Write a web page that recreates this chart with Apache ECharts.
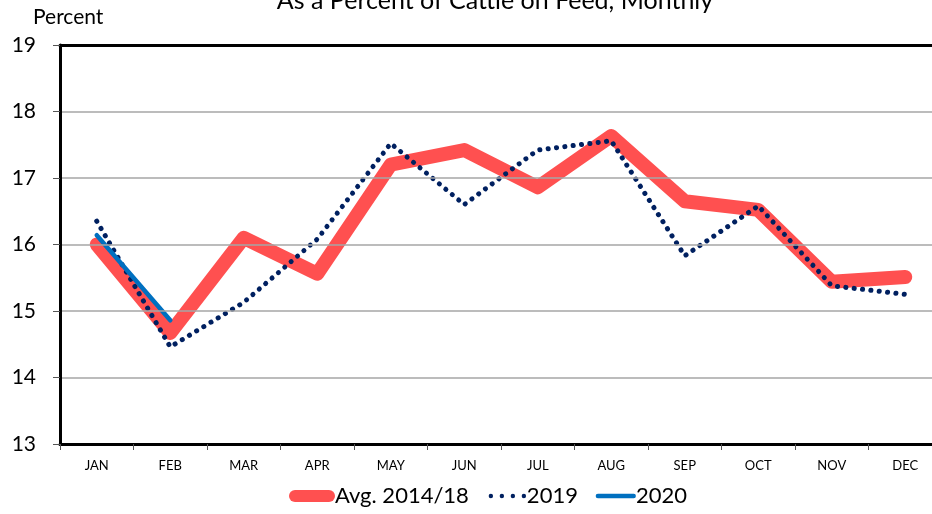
<!DOCTYPE html>
<html>
<head>
<meta charset="utf-8">
<script src="https://cdn.jsdelivr.net/npm/echarts@6/dist/echarts.min.js"></script>
<style>
  html, body { margin: 0; padding: 0; background: #fff; overflow: hidden; }
  #chart { width: 942px; height: 514px; }
</style>
</head>
<body>
<div id="chart"></div>
<script>
var months = ['JAN', 'FEB', 'MAR', 'APR', 'MAY', 'JUN', 'JUL', 'AUG', 'SEP', 'OCT', 'NOV', 'DEC'];
var avg1418 = [16.0, 14.67, 16.1, 15.56, 17.2, 17.42, 16.86, 17.63, 16.65, 16.52, 15.44, 15.51];
var y2019 = [16.35, 14.46, 15.13, 16.08, 17.52, 16.6, 17.42, 17.56, 15.83, 16.58, 15.38, 15.25];
var y2020 = [16.14, 14.86];

var chart = echarts.init(document.getElementById('chart'));
var font = 'Lato';

// legend icons, drawn in a 46x12 box (tiny corner points keep the box size)
function dot(cx, cy, r) {
  return 'M' + (cx - r) + ',' + cy + ' A' + r + ',' + r + ' 0 1 0 ' + (cx + r) + ',' + cy +
         ' A' + r + ',' + r + ' 0 1 0 ' + (cx - r) + ',' + cy + ' Z ';
}
var anchors = 'M0,0 L0.01,0 Z M46,12 L45.99,12 Z ';
var iconAvg = 'path://M6,0 L40,0 A6,6 0 0 1 40,12 L6,12 A6,6 0 0 1 6,0 Z';
var icon2019 = 'path://' + anchors + dot(10, 6, 2.2) + dot(21, 6, 2.2) + dot(32, 6, 2.2) + dot(43, 6, 2.2);
var icon2020 = 'path://' + anchors + 'M8,3.8 L44,3.8 A2.2,2.2 0 0 1 44,8.2 L8,8.2 A2.2,2.2 0 0 1 8,3.8 Z';

var option = {
  backgroundColor: '#ffffff',
  animation: false,
  textStyle: { fontFamily: font },
  title: [
    {
      text: 'As a Percent of Cattle on Feed, Monthly',
      left: 490,
      textAlign: 'center',
      top: -17,
      textStyle: { fontFamily: font, fontSize: 25, fontWeight: 'normal', color: '#000' }
    },
    {
      text: 'Percent',
      left: 28,
      top: 2,
      textStyle: { fontFamily: font, fontSize: 21, fontWeight: 'normal', color: '#000' }
    }
  ],
  legend: {
    bottom: 2,
    left: 284,
    itemWidth: 46,
    itemHeight: 12,
    itemGap: 12,
    textStyle: { fontFamily: font, fontSize: 22, color: '#000', padding: [0, 0, 0, -5] },
    data: [
      { name: 'Avg. 2014/18', icon: iconAvg },
      { name: '2019', icon: icon2019 },
      { name: '2020', icon: icon2020 }
    ]
  },
  grid: {
    left: 60,
    right: 0,
    top: 45,
    bottom: 70
  },
  xAxis: [
    {
      type: 'category',
      data: months,
      boundaryGap: true,
      axisLine: { lineStyle: { color: '#000', width: 3 } },
      axisTick: { show: true, length: 6, lineStyle: { color: '#555', width: 1 } },
      axisLabel: { fontSize: 13, color: '#000', margin: 15, fontFamily: font },
      z: 5
    },
    {
      // top frame line of the plot area
      type: 'category',
      data: months,
      position: 'top',
      axisLine: { show: true, lineStyle: { color: '#000', width: 3 } },
      axisTick: { show: false },
      axisLabel: { show: false },
      z: 5
    }
  ],
  yAxis: {
    type: 'value',
    min: 13,
    max: 19,
    interval: 1,
    axisLine: { show: true, lineStyle: { color: '#000', width: 3 } },
    axisTick: { show: true, length: 7, lineStyle: { color: '#555', width: 1 } },
    axisLabel: { fontSize: 21, color: '#000', margin: 24, fontFamily: font },
    splitLine: { show: true, lineStyle: { color: '#a6a6a6', width: 1.5 } },
    z: 5
  },
  series: [
    {
      name: 'Avg. 2014/18',
      type: 'line',
      data: avg1418,
      symbol: 'none',
      color: '#ff5050',
      lineStyle: { color: '#ff5050', width: 14, cap: 'round', join: 'round' },
      z: 2
    },
    {
      name: '2019',
      type: 'line',
      data: y2019,
      symbol: 'none',
      color: '#002060',
      lineStyle: { color: '#002060', width: 5, type: [0.1, 8.3], cap: 'round', join: 'round' },
      z: 3
    },
    {
      name: '2020',
      type: 'line',
      data: y2020,
      symbol: 'none',
      color: '#0070c0',
      lineStyle: { color: '#0070c0', width: 4.5, cap: 'round', join: 'round' },
      z: 4
    }
  ]
};

chart.setOption(option);
</script>
</body>
</html>
